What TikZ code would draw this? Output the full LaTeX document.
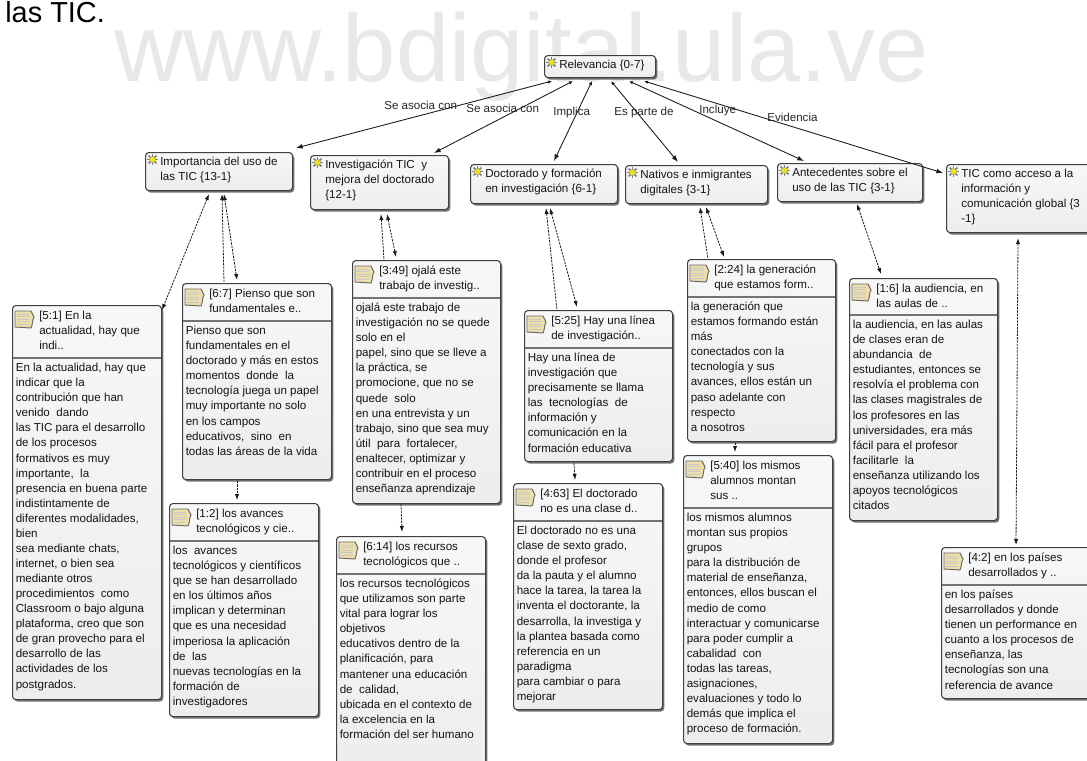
\documentclass[tikz,border=0pt]{standalone}
\usepackage{fontspec}
\setmainfont{Liberation Sans}
\usetikzlibrary{shadows,              % ombres des boites
           arrows.meta}
\definecolor{bordbox}{RGB}{64,64,64}
\definecolor{noteyel}{RGB}{238,222,170}
\definecolor{wmark}{RGB}{232,232,232}
\tikzset{
  boxbase/.style={draw=bordbox,line width=.8pt,rounded corners=2.5pt,anchor=north west,inner sep=0pt,
    top color=black!3,bottom color=black!7,
    drop shadow={shadow xshift=1.3pt,shadow yshift=-1.5pt,fill=black!65,opacity=.85}},
  boxtext/.style={anchor=north west,inner sep=0pt,align=left,text=black!92,font=\fontsize{8.7}{11.3}\selectfont},
  edgelabel/.style={anchor=west,inner sep=0pt,text=black!85,font=\fontsize{8.7}{11.3}\selectfont},
  rel/.style={{Latex[length=3pt,width=2.6pt]}-{Latex[length=5pt,width=3.6pt]},line width=.65pt,black!90},
  cit/.style={line width=.6pt,dash pattern=on 1.7pt off .8pt,black!90},
  tipa/.style={{Latex[length=4.5pt,width=3.2pt]}-{Latex[length=4.5pt,width=3.2pt]}},
  tipb/.style={{Latex[length=4.5pt,width=3.2pt]}-},
  tipc/.style={-{Latex[length=4.5pt,width=3.2pt]}},
  sunicon/.pic={
    \foreach \a in {0,45,...,315}\draw[black!50,line width=1.1pt](0,0)--(\a:5.6);
    \fill[yellow!92!black,draw=black!45,line width=.25pt](0,0)circle[radius=3.1];
  },
  noteicon/.pic={
    \draw[black!60,fill=noteyel,line width=.7pt](0,0)--(16,0)..controls(18,2)and(17,4)..(19,6)
      ..controls(17,9)and(18,13)..(16,17)--(0,16)--cycle;
    \foreach \b in {3,5.5,8,10.5,13}\draw[black!22,line width=.3pt](2,\b)--(14,\b);
  }
}
% #1 nom, #2 x, #3 y, #4 largeur, #5 hauteur, #6 texte
\newcommand{\codebox}[6]{
  \node[boxbase,minimum width=#4*.75pt,minimum height=#5*.75pt](#1)at(#2,#3){};
  \pic at([shift={(7.5,7.5)}]#1.north west){sunicon};
  \node[boxtext](#1-txt)at([shift={(15,3.5)}]#1.north west){\rule{0pt}{7pt}#6};
}
% #1 nom, #2 x, #3 y, #4 largeur, #5 hauteur, #6 filet, #7 titre, #8 citation
\newcommand{\quotebox}[8]{
  \node[boxbase,minimum width=#4*.75pt,minimum height=#5*.75pt](#1)at(#2,#3){};
  \pic at([shift={(3,6)}]#1.north west){noteicon};
  \node[boxtext](#1-tit)at([shift={(27,4.5)}]#1.north west){\rule{0pt}{7pt}#7};
  \draw[black!55,line width=.8pt]([shift={(1,#6)}]#1.north west)--([shift={(-1,#6)}]#1.north east);
  \node[boxtext](#1-txt)at([shift={(3.5,#6+4)}]#1.north west){\rule{0pt}{7pt}#8};
}
\begin{document}
\begin{tikzpicture}[x=.75pt,y=-.75pt]
\useasboundingbox(0,0)rectangle(1087,760);
\clip(0,0)rectangle(1087,760);
\node[anchor=base west,inner sep=0pt,text=wmark,font=\fontsize{71.8}{72}\selectfont](wm)at(114,81){www.bdigital.ula.ve};
\node[anchor=base west,inner sep=0pt,font=\fontsize{21.7}{24}\selectfont](tic)at(5,22){las TIC.};

\codebox{rele}{544}{55}{111}{22}{Relevancia \{0-7\}}
\codebox{impo}{145}{152}{147}{38}{Importancia del uso de\\las TIC \{13-1\}}
\codebox{inve}{310}{155}{138}{54}{Investigación TIC~ y\\mejora del doctorado\\\{12-1\}}
\codebox{doct}{470}{164}{147}{39}{Doctorado y formación\\en investigación \{6-1\}}
\codebox{nati}{625}{165}{142}{38}{Nativos e inmigrantes\\digitales \{3-1\}}
\codebox{ante}{777}{163}{145}{38}{Antecedentes sobre el\\uso de las TIC \{3-1\}}
\codebox{tice}{946}{164}{150}{68}{TIC como acceso a la\\información y\\comunicación global \{3\\-1\}}

\quotebox{qa}{12}{305}{149}{394}{53}{[5:1] En la\\actualidad, hay que\\indi..}{En la actualidad, hay que\\indicar que la\\contribución que han\\venido~ dando\\las TIC para el desarrollo\\de los procesos\\formativos es muy\\importante,~ la\\presencia en buena parte\\indistintamente de\\diferentes modalidades,\\bien\\sea mediante chats,\\internet, o bien sea\\mediante otros\\procedimientos~ como\\Classroom o bajo alguna\\plataforma, creo que son\\de gran provecho para el\\desarrollo de las\\actividades de los\\postgrados.}
\quotebox{qb}{182}{283}{149}{196}{38}{[6:7] Pienso que son\\fundamentales e..}{Pienso que son\\fundamentales en el\\doctorado y más en estos\\momentos~ donde~ la\\tecnología juega un papel\\muy importante no solo\\en los campos\\educativos,~ sino~ en\\todas las áreas de la vida}
\quotebox{qc}{169}{503}{149}{213}{38}{[1:2] los avances\\tecnológicos y cie..}{los~ avances\\tecnológicos y científicos\\que se han desarrollado\\en los últimos años\\implican y determinan\\que es una necesidad\\imperiosa la aplicación\\de~ las\\nuevas tecnologías en la\\formación de\\investigadores}
\quotebox{qd}{352}{260}{148}{243}{38}{[3:49] ojalá este\\trabajo de investig..}{ojalá este trabajo de\\investigación no se quede\\solo en el\\papel, sino que se lleve a\\la práctica, se\\promocione, que no se\\quede~ solo\\en una entrevista y un\\trabajo, sino que sea muy\\útil~ para~ fortalecer,\\enaltecer, optimizar y\\contribuir en el proceso\\enseñanza aprendizaje}
\quotebox{qe}{336}{536}{149}{240}{38}{[6:14] los recursos\\tecnológicos que ..}{los recursos tecnológicos\\que utilizamos son parte\\vital para lograr los\\objetivos\\educativos dentro de la\\planificación, para\\mantener una educación\\de~ calidad,\\ubicada en el contexto de\\la excelencia en la\\formación del ser humano}
\quotebox{qf}{524}{310}{148}{151}{38}{[5:25] Hay una línea\\de investigación..}{Hay una línea de\\investigación que\\precisamente se llama\\las~ tecnologías~ de\\información y\\comunicación en la\\formación educativa}
\quotebox{qg}{513}{483}{149}{226}{38}{[4:63] El doctorado\\no es una clase d..}{El doctorado no es una\\clase de sexto grado,\\donde el profesor\\da la pauta y el alumno\\hace la tarea, la tarea la\\inventa el doctorante, la\\desarrolla, la investiga y\\la plantea basada como\\referencia en un\\paradigma\\para cambiar o para\\mejorar}
\quotebox{qh}{687}{259}{148}{182}{38}{[2:24] la generación\\que estamos form..}{la generación que\\estamos formando están\\más\\conectados con la\\tecnología y sus\\avances, ellos están un\\paso adelante con\\respecto\\a nosotros}
\quotebox{qi}{683}{455}{149}{288}{53}{[5:40] los mismos\\alumnos montan\\sus ..}{los mismos alumnos\\montan sus propios\\grupos\\para la distribución de\\material de enseñanza,\\entonces, ellos buscan el\\medio de como\\interactuar y comunicarse\\para poder cumplir a\\cabalidad~ con\\todas las tareas,\\asignaciones,\\evaluaciones y todo lo\\demás que implica el\\proceso de formación.}
\quotebox{qj}{849}{278}{148}{242}{37}{[1:6] la audiencia, en\\las aulas de ..}{la audiencia, en las aulas\\de clases eran de\\abundancia~ de\\estudiantes, entonces se\\resolvía el problema con\\las clases magistrales de\\los profesores en las\\universidades, era más\\fácil para el profesor\\facilitarle~ la\\enseñanza utilizando los\\apoyos tecnológicos\\citados}
\quotebox{qk}{941}{547}{155}{151}{38}{[4:2] en los países\\desarrollados y ..}{en los países\\desarrollados y donde\\tienen un performance en\\cuanto a los procesos de\\enseñanza, las\\tecnologías son una\\referencia de avance}

\draw[rel]([shift={(8,3)}]rele.south west)--([shift={(151,-4)}]impo.north west);
\draw[rel]([shift={(29,3)}]rele.south west)--([shift={(124,-2)}]inve.north west);
\draw[rel]([shift={(48,3)}]rele.south west)--([shift={(84,-3)}]doct.north west);
\draw[rel]([shift={(67,3)}]rele.south west)--([shift={(53,-3)}]nati.north west);
\draw[rel]([shift={(85,3)}]rele.south west)--([shift={(27,-2)}]ante.north west);
\draw[rel]([shift={(100,3)}]rele.south west)--([shift={(-3,9)}]tice.north west);

\node[edgelabel](la)at(384,105){Se asocia con};
\node[edgelabel](lb)at(466,108){Se asocia con};
\node[edgelabel](lc)at(553,112){Implica};
\node[edgelabel](ld)at(614,112){Es parte de};
\node[edgelabel](le)at(699,110){Incluye};
\node[edgelabel](lf)at(767,117){Evidencia};

\draw[cit,tipa]([shift={(64,3)}]impo.south west)--([shift={(150,5)}]qa.north west);
\draw[cit,tipb]([shift={(77,3)}]impo.south west)--([shift={(42,-1)}]qb.north west);
\draw[cit,tipa]([shift={(79,3)}]impo.south west)--([shift={(55,-3)}]qb.north west);
\draw[cit,tipc]([shift={(55,1)}]qb.south west)--([shift={(68,-3)}]qc.north west);
\draw[cit,tipb]([shift={(71,4)}]inve.south west)--([shift={(32,0)}]qd.north west);
\draw[cit,tipa]([shift={(77,4)}]inve.south west)--([shift={(44,-3)}]qd.north west);
\draw[cit,tipc]([shift={(49,0)}]qd.south west)--([shift={(66,-4)}]qe.north west);
\draw[cit,tipb]([shift={(76,4)}]doct.south west)--([shift={(33,0)}]qf.north west);
\draw[cit,tipa]([shift={(80,4)}]doct.south west)--([shift={(53,-3)}]qf.north west);
\draw[cit,tipc]([shift={(50,1)}]qf.south west)--([shift={(62,-3)}]qg.north west);
\draw[cit,tipb]([shift={(75,3)}]nati.south west)--([shift={(21,0)}]qh.north west);
\draw[cit,tipa]([shift={(81,3)}]nati.south west)--([shift={(37,-2)}]qh.north west);
\draw[cit,tipc]([shift={(48,1)}]qh.south west)--([shift={(52,-3)}]qi.north west);
\draw[cit,tipa]([shift={(80,2)}]ante.south west)--([shift={(32,-4)}]qj.north west);
\draw[cit,tipa]([shift={(72,5)}]tice.south west)--([shift={(75,-2)}]qk.north west);
\end{tikzpicture}
\end{document}
